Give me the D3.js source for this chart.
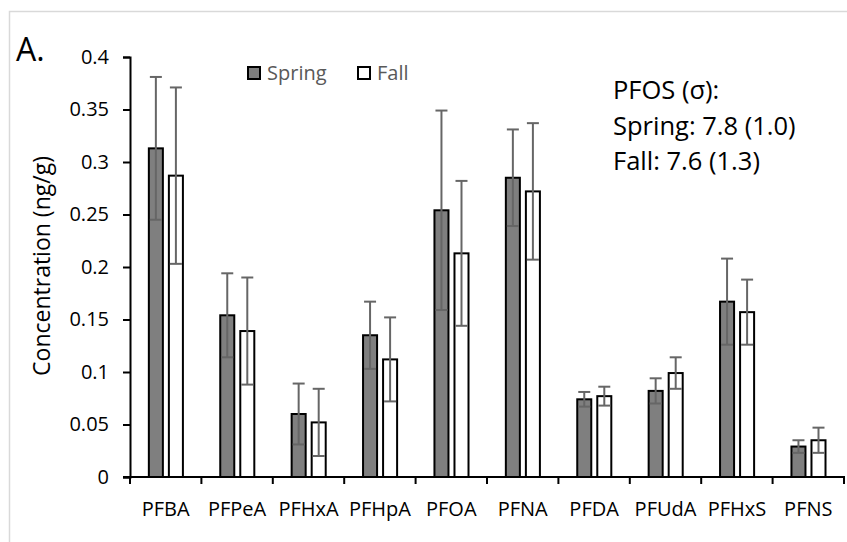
<!DOCTYPE html>
<html>
<head>
<meta charset="utf-8">
<script src="https://cdn.jsdelivr.net/npm/d3@7"></script>
<style>
  html, body { margin: 0; padding: 0; background: #fff; }
  svg { display: block; font-family: "Open Sans", sans-serif; }
</style>
</head>
<body>
<svg id="chart" width="847" height="542"></svg>
<script>
// Mean concentrations (ng/g) and standard deviations by compound and season
const categories = ["PFBA", "PFPeA", "PFHxA", "PFHpA", "PFOA", "PFNA", "PFDA", "PFUdA", "PFHxS", "PFNS"];
const seasons = ["Spring", "Fall"];
const springMean = [0.313, 0.154, 0.060, 0.135, 0.254, 0.285, 0.074, 0.082, 0.167, 0.029];
const springSd   = [0.068, 0.040, 0.029, 0.032, 0.095, 0.046, 0.007, 0.012, 0.041, 0.006];
const fallMean   = [0.287, 0.139, 0.052, 0.112, 0.213, 0.272, 0.077, 0.099, 0.157, 0.035];
const fallSd     = [0.084, 0.051, 0.032, 0.040, 0.069, 0.065, 0.009, 0.015, 0.031, 0.012];
const yTicks = [0, 0.05, 0.1, 0.15, 0.2, 0.25, 0.3, 0.35, 0.4];
const noteLines = ["PFOS (σ):", "Spring: 7.8 (1.0)", "Fall: 7.6 (1.3)"];

const seasonFill = { Spring: "#7f7f7f", Fall: "#ffffff" };
const means = { Spring: springMean, Fall: fallMean };
const sds = { Spring: springSd, Fall: fallSd };

const svg = d3.select("#chart");

// outer chart-area frame
svg.append("rect")
  .attr("x", 9.5).attr("y", 11.5)
  .attr("width", 900).attr("height", 600)
  .attr("fill", "none").attr("stroke", "#d9d9d9").attr("stroke-width", 1.5);

const plot = { left: 130, right: 844, top: 57, bottom: 477 };

const x = d3.scaleBand().domain(categories).range([plot.left, plot.right]).padding(0);
const bw = x.bandwidth();
const xs = d3.scaleBand().domain(seasons)
  .range([bw * 0.25, bw * 0.755]).paddingInner(0.2).paddingOuter(0);
const y = d3.scaleLinear().domain([0, 0.4]).range([plot.bottom, plot.top]);

const rows = [];
categories.forEach((c, i) => {
  seasons.forEach(s => rows.push({ cat: c, season: s, mean: means[s][i], sd: sds[s][i] }));
});

// bars
const barStroke = 2;
svg.append("g").selectAll("rect").data(rows).join("rect")
  .attr("x", d => x(d.cat) + xs(d.season) + barStroke / 2)
  .attr("width", xs.bandwidth() - barStroke)
  .attr("y", d => y(d.mean))
  .attr("height", d => y(0) - y(d.mean))
  .attr("fill", d => seasonFill[d.season])
  .attr("stroke", "#000").attr("stroke-width", barStroke);

// error bars
const cap = 6;
const eb = svg.append("g").attr("stroke", "#666").attr("stroke-width", 2).attr("fill", "none");
rows.forEach(d => {
  const cx = x(d.cat) + xs(d.season) + xs.bandwidth() / 2;
  const hi = y(d.mean + d.sd), lo = y(d.mean - d.sd);
  eb.append("line").attr("x1", cx).attr("x2", cx).attr("y1", hi).attr("y2", lo);
  eb.append("line").attr("x1", cx - cap).attr("x2", cx + cap).attr("y1", hi).attr("y2", hi);
  eb.append("line").attr("x1", cx - cap).attr("x2", cx + cap).attr("y1", lo).attr("y2", lo);
});

// y axis
const yAxis = d3.axisLeft(y).tickValues(yTicks).tickSize(7).tickPadding(14)
  .tickFormat(d => String(+d.toFixed(2)));
const gy = svg.append("g").attr("transform", `translate(${plot.left},0)`).call(yAxis);
gy.select(".domain").attr("stroke", "#000").attr("stroke-width", 2);
gy.selectAll(".tick line").attr("stroke", "#000").attr("stroke-width", 2);
gy.selectAll(".tick text").attr("font-family", "Open Sans").attr("font-size", 20).attr("fill", "#000");

// x axis with ticks at category boundaries
const xAxis = d3.axisBottom(x).tickSize(0).tickPadding(25);
const gx = svg.append("g").attr("transform", `translate(0,${plot.bottom})`).call(xAxis);
gx.select(".domain").remove();
gx.selectAll(".tick text").attr("font-family", "Open Sans").attr("font-size", 20).attr("fill", "#000");
gx.append("line").attr("x1", plot.left - 7).attr("x2", plot.right + 1)
  .attr("y1", 0).attr("y2", 0).attr("stroke", "#000").attr("stroke-width", 2);
gx.selectAll(".bound").data(categories.map(c => x(c)).concat([plot.right])).join("line")
  .attr("class", "bound")
  .attr("x1", d => d).attr("x2", d => d).attr("y1", 0).attr("y2", 7)
  .attr("stroke", "#000").attr("stroke-width", 2);

// axis title
svg.append("text")
  .attr("transform", `translate(50,266) rotate(-90)`)
  .attr("text-anchor", "middle")
  .attr("font-size", 23).attr("fill", "#000")
  .text("Concentration (ng/g)");

// panel label
svg.append("text").attr("x", 16).attr("y", 61)
  .attr("font-size", 32).attr("fill", "#000").text("A.");

// legend
const legend = svg.append("g");
const legendPos = { Spring: 247, Fall: 357 };
seasons.forEach(s => {
  const lx = legendPos[s];
  legend.append("rect").attr("x", lx + 1).attr("y", 67).attr("width", 12).attr("height", 12)
    .attr("fill", seasonFill[s]).attr("stroke", "#000").attr("stroke-width", 2);
  legend.append("text").attr("x", lx + 20).attr("y", 80)
    .attr("font-size", 20).attr("fill", "#595959").text(s);
});

// PFOS note
const note = svg.append("text").attr("font-size", 25.5).attr("fill", "#000");
noteLines.forEach((t, i) => {
  note.append("tspan").attr("x", 613).attr("y", 99 + i * 35.5).text(t);
});
</script>
</body>
</html>
